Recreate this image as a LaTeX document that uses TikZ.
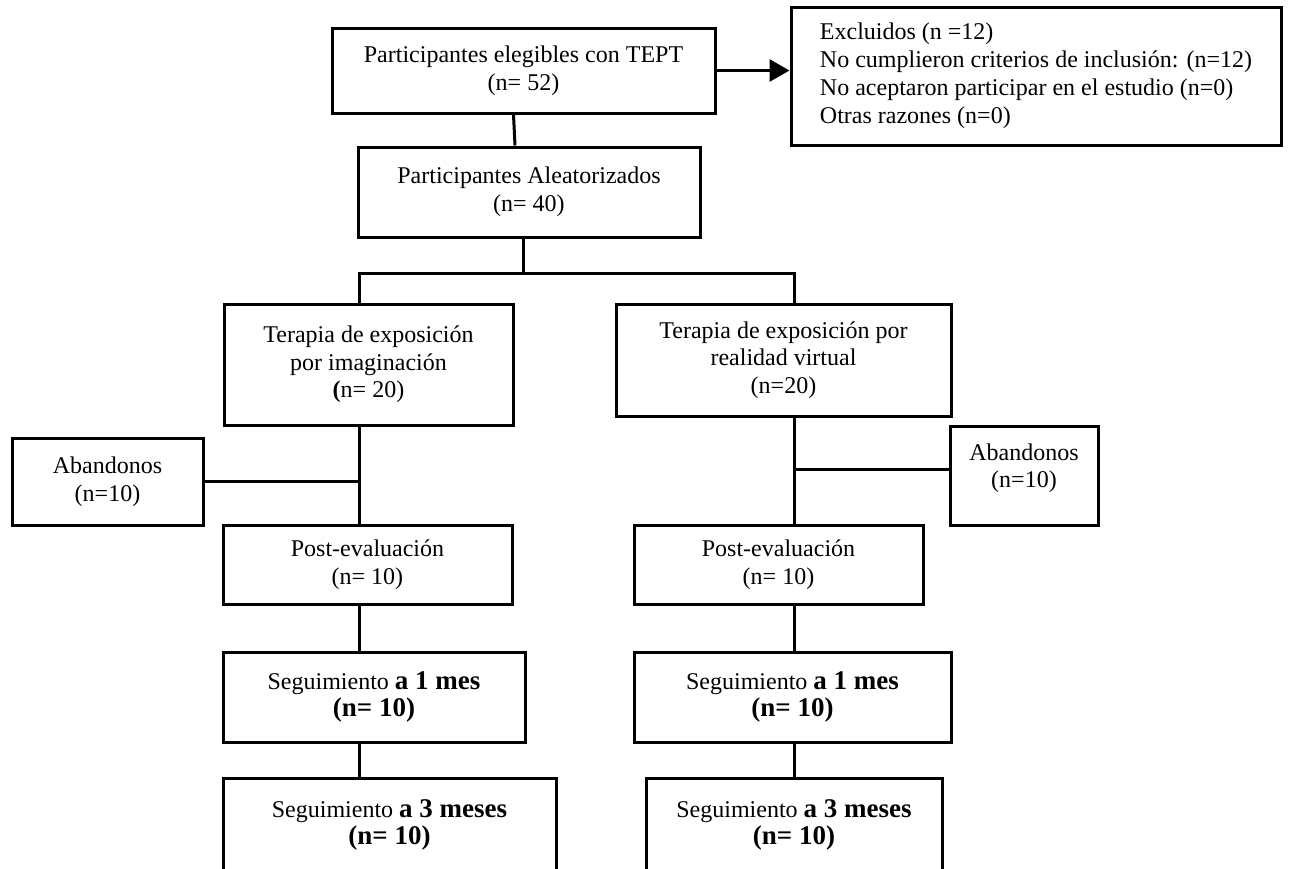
\documentclass[tikz,border=0pt]{standalone}
\usepackage{fontspec}
\setmainfont{Liberation Serif}
\usetikzlibrary{arrows.meta,shadows}

\tikzset{
  flowbox/.style={rectangle, draw=black, line width=1.5pt, fill=white, inner sep=0pt,
    align=center, font=\fontsize{12}{13.8}\selectfont,
    drop shadow={shadow xshift=1.2pt, shadow yshift=-1.2pt, opacity=0.3, fill=gray}},
  boxsize/.style 2 args={minimum width=#1*0.5pt, minimum height=#2*0.5pt},
  link/.style={line width=1.5pt},
}
\newcommand{\boldbig}[1]{{\fontsize{13.5}{14}\selectfont\bfseries #1}}

\begin{document}
\begin{tikzpicture}[x=0.5pt,y=-0.5pt]
 \useasboundingbox (0,0) rectangle (1291,868);
 % top part
 \node[flowbox,boxsize={383}{85}] (elig) at (523.5,70.5) {Participantes elegibles con TEPT\\(n= 52)};
 \node[flowbox,boxsize={490}{138},align=left,font=\fontsize{12}{14}\selectfont] (excl) at (1036,76)
   {Excluidos (n =12)\\No cumplieron criterios de inclusión: (n=12)\\No aceptaron participar en el estudio (n=0)\\Otras razones (n=0)};
 \node[flowbox,boxsize={342}{90}] (aleat) at (529,192) {Participantes Aleatorizados\\(n= 40)};
 % two arms
 \node[flowbox,boxsize={289}{121}] (timag) at (368.5,364.5) {Terapia de exposición\\por imaginación\\\textbf{(}n= 20)};
 \node[flowbox,boxsize={335}{112}] (trv) at (783.5,360) {Terapia de exposición por\\realidad virtual\\(n=20)};
 \node[flowbox,boxsize={191}{87}] (aban1) at (107.5,481.5) {Abandonos\\(n=10)};
 \node[flowbox,boxsize={148}{99}] (aban2) at (1024,475.5) {Abandonos\\(n=10)\\[-3.8pt]\mbox{}};
 \node[flowbox,boxsize={289}{79}] (post1) at (367.5,564.5) {Post-evaluación\\(n= 10)};
 \node[flowbox,boxsize={289}{79}] (post2) at (778.5,564.5) {Post-evaluación\\(n= 10)};
 \node[flowbox,boxsize={302}{90}] (seg1a) at (374,697) {Seguimiento \boldbig{a 1 mes}\\\boldbig{(n= 10)}};
 \node[flowbox,boxsize={317}{90}] (seg1b) at (792.5,697) {Seguimiento \boldbig{a 1 mes}\\\boldbig{(n= 10)}};
 \node[flowbox,boxsize={333}{94}] (seg3a) at (389.5,825) {Seguimiento \boldbig{a 3 meses}\\\boldbig{(n= 10)}};
 \node[flowbox,boxsize={296}{94}] (seg3b) at (794,825) {Seguimiento \boldbig{a 3 meses}\\\boldbig{(n= 10)}};
 % connectors
 \coordinate (spineA) at (359,273);
 \coordinate (spineB) at (794,273);
 \draw[link,-{Triangle[length=10pt,width=11pt]}] (elig.east) -- (elig.east -| excl.west);
 \draw[link] ([xshift=-5pt]elig.south) -- ([xshift=-7pt]aleat.north);
 \draw[link] ([xshift=-3pt]aleat.south) -- ([xshift=-3pt]aleat.south |- spineA);
 \draw[link] (spineA |- timag.north) -- (spineA) -- (spineB) -- (spineB |- trv.north);
 \draw[link] (spineA |- timag.south) -- (spineA |- post1.north);
 \draw[link] (aban1.east) -- (aban1.east -| spineA);
 \draw[link] (spineB |- trv.south) -- (spineB |- post2.north);
 \draw[link] ([yshift=3pt]aban2.west) -- ([yshift=3pt]aban2.west -| spineB);
 \draw[link] (spineA |- post1.south) -- (spineA |- seg1a.north);
 \draw[link] (spineA |- seg1a.south) -- (spineA |- seg3a.north);
 \draw[link] (spineB |- post2.south) -- (spineB |- seg1b.north);
 \draw[link] (spineB |- seg1b.south) -- (spineB |- seg3b.north);
\end{tikzpicture}
\end{document}
